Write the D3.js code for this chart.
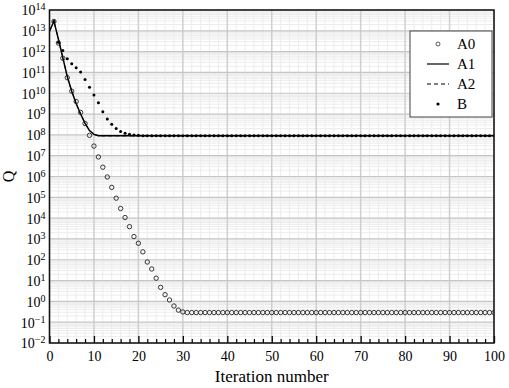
<!DOCTYPE html>
<html>
<head>
<meta charset="utf-8">
<script src="https://cdn.jsdelivr.net/npm/d3@7"></script>
<style>
body { margin: 0; background: #fff; }
svg text { font-family: "Liberation Serif", "Tinos", "Times New Roman", "DejaVu Serif", serif !important; }
</style>
</head>
<body>
<script>
// iterations for A0 and B start at 1, A1/A2 start at 0
const a0Iter = d3.range(1, 101);
const a0Values = [
  2.8e13, 2.6e12, 4.8e11, 5.6e10, 1.26e10, 4.0e9, 1.2e9, 3.5e8, 9.5e7, 2.9e7,
  8.7e6, 2.8e6, 9.5e5, 3.0e5, 9.1e4, 2.9e4, 1.07e4, 3.9e3, 1.3e3, 6.2e2,
  2.4e2, 78, 36, 13, 4.7, 2.1, 1.17, 0.6, 0.38, 0.31,
  0.29, 0.29, 0.29, 0.29, 0.29, 0.29, 0.29, 0.29, 0.29, 0.29,
  0.29, 0.29, 0.29, 0.29, 0.29, 0.29, 0.29, 0.29, 0.29, 0.29,
  0.29, 0.29, 0.29, 0.29, 0.29, 0.29, 0.29, 0.29, 0.29, 0.29,
  0.29, 0.29, 0.29, 0.29, 0.29, 0.29, 0.29, 0.29, 0.29, 0.29,
  0.29, 0.29, 0.29, 0.29, 0.29, 0.29, 0.29, 0.29, 0.29, 0.29,
  0.29, 0.29, 0.29, 0.29, 0.29, 0.29, 0.29, 0.29, 0.29, 0.29,
  0.29, 0.29, 0.29, 0.29, 0.29, 0.29, 0.29, 0.29, 0.29, 0.29
];

const a1Iter = d3.range(0, 101);
const a1Values = [
  9.5e12, 2.9e13, 4.0e12, 5.0e11, 6.3e10, 1.26e10, 3.2e9, 1.0e9, 3.6e8, 1.6e8,
  1.05e8, 9.1e7, 9.0e7, 9.0e7, 9.0e7, 9.0e7, 9.0e7, 9.0e7, 9.0e7, 9.0e7,
  9.0e7, 9.0e7, 9.0e7, 9.0e7, 9.0e7, 9.0e7, 9.0e7, 9.0e7, 9.0e7, 9.0e7,
  9.0e7, 9.0e7, 9.0e7, 9.0e7, 9.0e7, 9.0e7, 9.0e7, 9.0e7, 9.0e7, 9.0e7,
  9.0e7, 9.0e7, 9.0e7, 9.0e7, 9.0e7, 9.0e7, 9.0e7, 9.0e7, 9.0e7, 9.0e7,
  9.0e7, 9.0e7, 9.0e7, 9.0e7, 9.0e7, 9.0e7, 9.0e7, 9.0e7, 9.0e7, 9.0e7,
  9.0e7, 9.0e7, 9.0e7, 9.0e7, 9.0e7, 9.0e7, 9.0e7, 9.0e7, 9.0e7, 9.0e7,
  9.0e7, 9.0e7, 9.0e7, 9.0e7, 9.0e7, 9.0e7, 9.0e7, 9.0e7, 9.0e7, 9.0e7,
  9.0e7, 9.0e7, 9.0e7, 9.0e7, 9.0e7, 9.0e7, 9.0e7, 9.0e7, 9.0e7, 9.0e7,
  9.0e7, 9.0e7, 9.0e7, 9.0e7, 9.0e7, 9.0e7, 9.0e7, 9.0e7, 9.0e7, 9.0e7,
  9.0e7
];
// A2 lies on top of A1 in the picture
const a2Values = a1Values.slice();

const bIter = d3.range(1, 101);
const bValues = [
  2.8e13, 2.8e12, 1.12e12, 4.5e11, 2.6e11, 1.66e11, 1.05e11, 4.6e10, 1.95e10, 8.3e9,
  3.5e9, 1.3e9, 5.8e8, 3.2e8, 2.0e8, 1.45e8, 1.2e8, 1.07e8, 1.0e8, 9.5e7,
  9.2e7, 9.2e7, 9.2e7, 9.2e7, 9.2e7, 9.2e7, 9.2e7, 9.2e7, 9.2e7, 9.2e7,
  9.2e7, 9.2e7, 9.2e7, 9.2e7, 9.2e7, 9.2e7, 9.2e7, 9.2e7, 9.2e7, 9.2e7,
  9.2e7, 9.2e7, 9.2e7, 9.2e7, 9.2e7, 9.2e7, 9.2e7, 9.2e7, 9.2e7, 9.2e7,
  9.2e7, 9.2e7, 9.2e7, 9.2e7, 9.2e7, 9.2e7, 9.2e7, 9.2e7, 9.2e7, 9.2e7,
  9.2e7, 9.2e7, 9.2e7, 9.2e7, 9.2e7, 9.2e7, 9.2e7, 9.2e7, 9.2e7, 9.2e7,
  9.2e7, 9.2e7, 9.2e7, 9.2e7, 9.2e7, 9.2e7, 9.2e7, 9.2e7, 9.2e7, 9.2e7,
  9.2e7, 9.2e7, 9.2e7, 9.2e7, 9.2e7, 9.2e7, 9.2e7, 9.2e7, 9.2e7, 9.2e7,
  9.2e7, 9.2e7, 9.2e7, 9.2e7, 9.2e7, 9.2e7, 9.2e7, 9.2e7, 9.2e7, 9.2e7
];

const xTicks = [0, 10, 20, 30, 40, 50, 60, 70, 80, 90, 100];
const yExponents = [-2, -1, 0, 1, 2, 3, 4, 5, 6, 7, 8, 9, 10, 11, 12, 13, 14];
const legendNames = ["A0", "A1", "A2", "B"];

const serif = "'Liberation Serif', Tinos, 'Times New Roman', 'DejaVu Serif', serif";

function main() {
  const W = 509, H = 388;
  const margin = {left: 49.5, right: 15, top: 10, bottom: 45};
  const width = W - margin.left - margin.right;
  const height = H - margin.top - margin.bottom;

  const svg = d3.select("body").append("svg")
    .attr("width", W)
    .attr("height", H)
    .attr("font-family", serif);

  const g = svg.append("g")
    .attr("transform", "translate(" + margin.left + "," + margin.top + ")");

  const x = d3.scaleLinear().domain([0, 100]).range([0, width]);
  const y = d3.scaleLog().domain([1e-2, 1e14]).range([height, 0]);

  // minor grid
  const minorX = d3.range(0, 101, 2).filter(d => d % 10 !== 0);
  const minorY = [];
  yExponents.slice(0, -1).forEach(e => {
    for (let k = 2; k <= 9; k++) minorY.push(k * Math.pow(10, e));
  });
  g.selectAll(".minx").data(minorX).enter().append("line")
    .attr("x1", d => x(d)).attr("x2", d => x(d))
    .attr("y1", 0).attr("y2", height)
    .attr("stroke", "#ececec").attr("stroke-width", 1);
  g.selectAll(".miny").data(minorY).enter().append("line")
    .attr("x1", 0).attr("x2", width)
    .attr("y1", d => y(d)).attr("y2", d => y(d))
    .attr("stroke", "#ececec").attr("stroke-width", 1);

  // major grid
  g.selectAll(".majx").data(xTicks).enter().append("line")
    .attr("x1", d => x(d)).attr("x2", d => x(d))
    .attr("y1", 0).attr("y2", height)
    .attr("stroke", "#cfcfcf").attr("stroke-width", 1.5);
  g.selectAll(".majy").data(yExponents).enter().append("line")
    .attr("x1", 0).attr("x2", width)
    .attr("y1", d => y(Math.pow(10, d))).attr("y2", d => y(Math.pow(10, d)))
    .attr("stroke", "#c6c6c6").attr("stroke-width", 1.2);

  // x axis, ticks pointing in
  const xAxis = g.append("g")
    .attr("transform", "translate(0," + height + ")")
    .call(d3.axisBottom(x).tickValues(xTicks).tickSizeInner(-7).tickSizeOuter(0).tickPadding(8));
  xAxis.attr("font-family", serif);
  xAxis.select(".domain").remove();
  xAxis.selectAll("line").attr("stroke", "#000").attr("stroke-width", 1.3);
  xAxis.selectAll("text").attr("font-size", "14px").attr("fill", "#000");

  const xMinor = g.append("g")
    .attr("transform", "translate(0," + height + ")")
    .call(d3.axisBottom(x).tickValues(minorX).tickSizeInner(-4).tickSizeOuter(0).tickFormat(""));
  xMinor.select(".domain").remove();
  xMinor.selectAll("line").attr("stroke", "#000").attr("stroke-width", 1.2);

  // y axis with 10^n labels
  const yAxis = g.append("g")
    .call(d3.axisLeft(y).tickValues(yExponents.map(e => Math.pow(10, e)))
      .tickSize(0).tickPadding(4).tickFormat(""));
  yAxis.attr("font-family", serif);
  yAxis.select(".domain").remove();
  yAxis.selectAll("text").each(function(d) {
    const e = Math.round(Math.log10(d));
    const t = d3.select(this)
      .attr("font-size", "14px").attr("fill", "#000")
      .attr("dy", null);
    t.append("tspan").attr("dy", "0.35em").text("10");
    t.append("tspan").attr("dy", "-0.5em").attr("font-size", "10px")
      .text(String(e).replace("-", "\u2212"));
  });

  // data
  svg.append("clipPath").attr("id", "clip")
    .append("rect").attr("width", width).attr("height", height);
  const plot = g.append("g").attr("clip-path", "url(#clip)");

  const line = d3.line()
    .x(d => x(d[0]))
    .y(d => y(d[1]));

  plot.append("path")
    .datum(a1Iter.map((it, i) => [it, a1Values[i]]))
    .attr("fill", "none").attr("stroke", "#000").attr("stroke-width", 1.5)
    .attr("d", line);
  plot.append("path")
    .datum(a1Iter.map((it, i) => [it, a2Values[i]]))
    .attr("fill", "none").attr("stroke", "#000").attr("stroke-width", 1)
    .attr("stroke-dasharray", "4,3")
    .attr("d", line);

  plot.selectAll(".a0").data(a0Iter.map((it, i) => [it, a0Values[i]])).enter()
    .append("circle")
    .attr("cx", d => x(d[0])).attr("cy", d => y(d[1]))
    .attr("r", 2.2)
    .attr("fill", "none").attr("stroke", "#222").attr("stroke-width", 0.9);

  plot.selectAll(".b").data(bIter.map((it, i) => [it, bValues[i]])).enter()
    .append("circle")
    .attr("cx", d => x(d[0])).attr("cy", d => y(d[1]))
    .attr("r", 1.5)
    .attr("fill", "#000");

  // frame
  g.append("rect")
    .attr("width", width).attr("height", height)
    .attr("fill", "none").attr("stroke", "#111").attr("stroke-width", 1.5);

  // legend
  const leg = svg.append("g").attr("transform", "translate(410,31)");
  leg.append("rect")
    .attr("width", 82).attr("height", 86)
    .attr("fill", "#fff").attr("stroke", "#444").attr("stroke-width", 1);
  legendNames.forEach((name, i) => {
    const yy = 13 + i * 20;
    if (name === "A0") {
      leg.append("circle").attr("cx", 28).attr("cy", yy).attr("r", 2)
        .attr("fill", "none").attr("stroke", "#333").attr("stroke-width", 0.8);
    } else if (name === "A1") {
      leg.append("line").attr("x1", 17).attr("x2", 39).attr("y1", yy).attr("y2", yy)
        .attr("stroke", "#000").attr("stroke-width", 1.2);
    } else if (name === "A2") {
      leg.append("line").attr("x1", 17).attr("x2", 39).attr("y1", yy).attr("y2", yy)
        .attr("stroke", "#000").attr("stroke-width", 1).attr("stroke-dasharray", "4,3");
    } else {
      leg.append("circle").attr("cx", 28).attr("cy", yy).attr("r", 1.6).attr("fill", "#000");
    }
    leg.append("text")
      .attr("x", 47).attr("y", yy).attr("dy", "0.35em")
      .attr("font-size", "15px")
      .text(name);
  });

  // axis titles
  svg.append("text")
    .attr("x", margin.left + width / 2).attr("y", 382)
    .attr("text-anchor", "middle")
    .attr("font-size", "17px")
    .text("Iteration number");

  svg.append("text")
    .attr("transform", "translate(14," + (margin.top + height / 2) + ") rotate(-90)")
    .attr("text-anchor", "middle")
    .attr("font-size", "16px")
    .text("Q");
}
main();
</script>
</body>
</html>
